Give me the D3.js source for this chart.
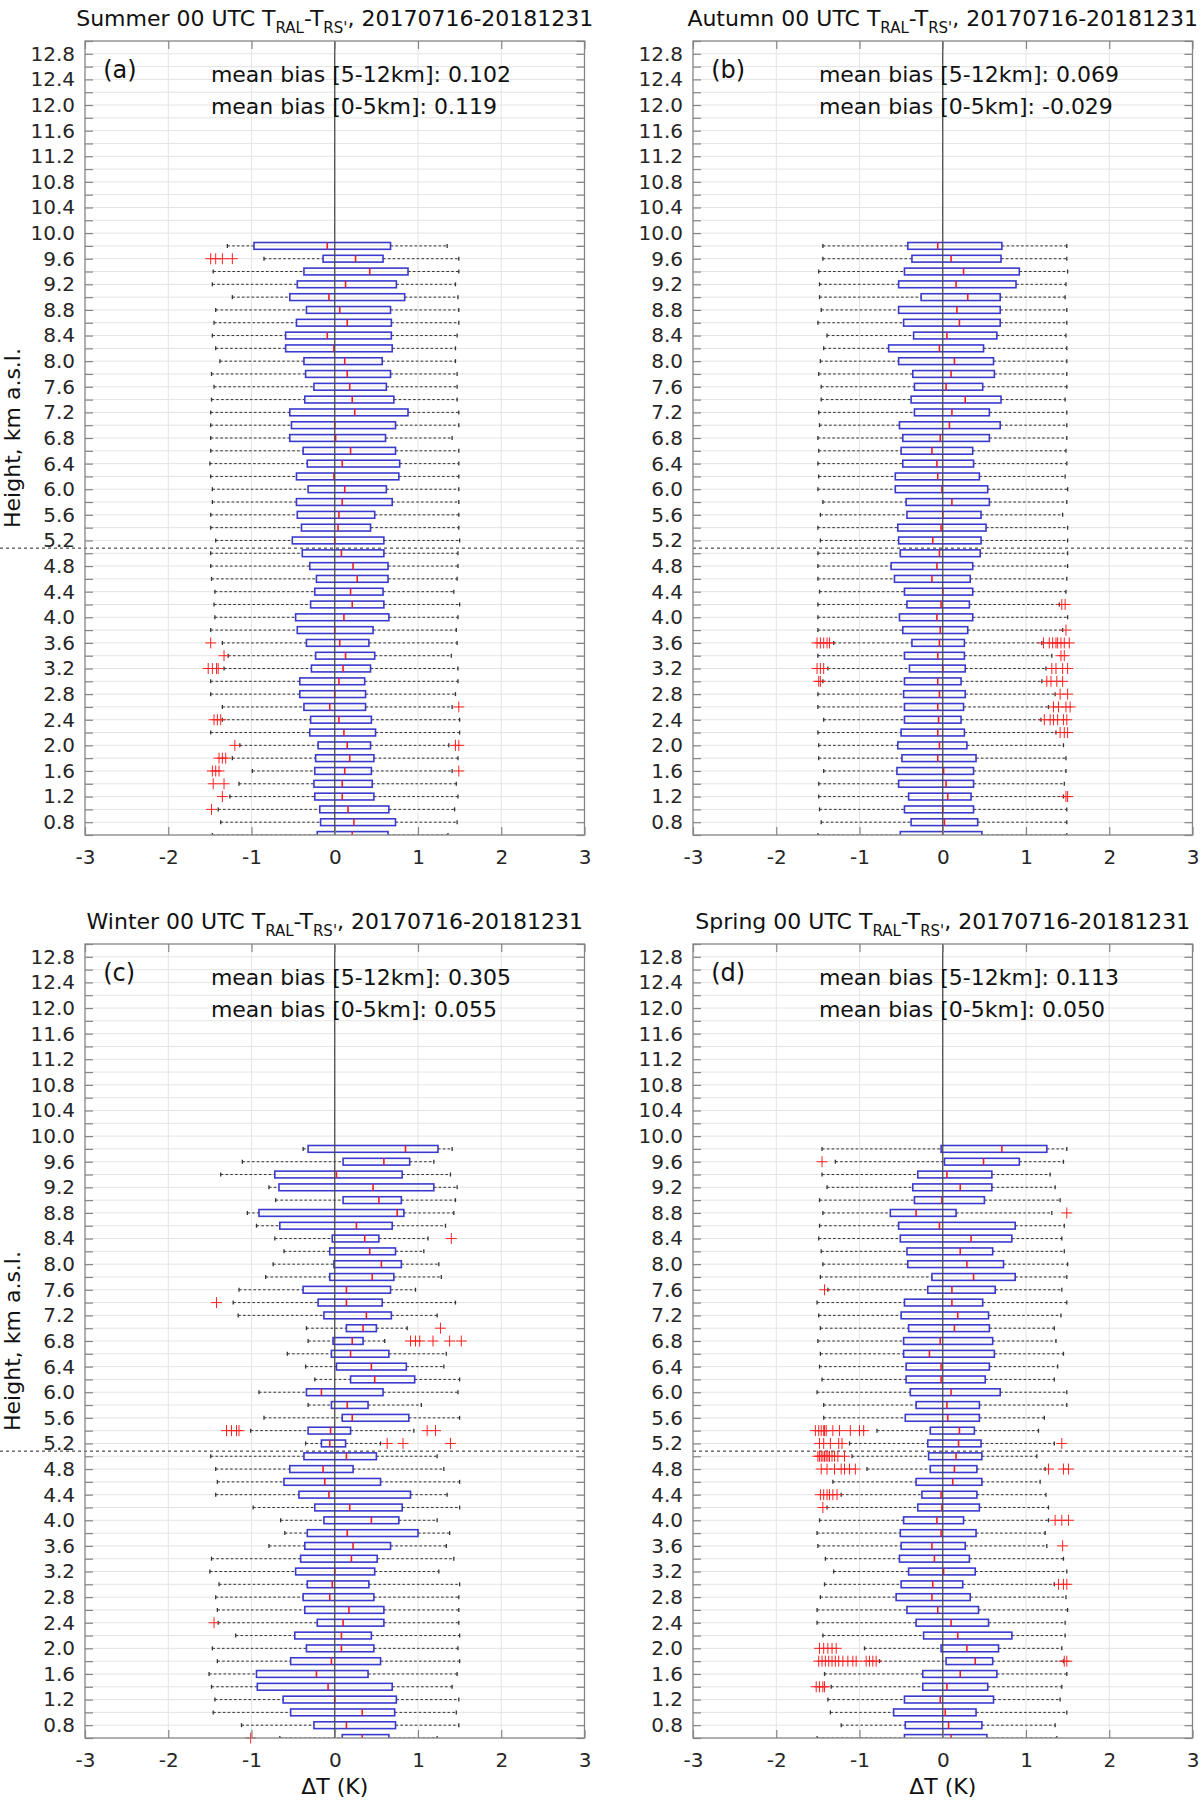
<html>
<script src="https://d3js.org/d3.v7.min.js"></script>
<style>
body {margin: 0; background: #fff;}
text {font-family: "DejaVu Sans", sans-serif;}
</style>
<body>
<svg id="chart" width="1200" height="1800"></svg>
<script>
// box rows, km a.s.l. (top to bottom)
var heights = [9.8,9.6,9.4,9.2,9.0,8.8,8.6,8.4,8.2,8.0,
               7.8,7.6,7.4,7.2,7.0,6.8,6.6,6.4,6.2,6.0,
               5.8,5.6,5.4,5.2,5.0,4.8,4.6,4.4,4.2,4.0,
               3.8,3.6,3.4,3.2,3.0,2.8,2.6,2.4,2.2,2.0,
               1.8,1.6,1.4,1.2,1.0,0.8,0.6];

var xTicks = [-3,-2,-1,0,1,2,3];
var yTickLabels = ["0.8","1.2","1.6","2.0","2.4","2.8","3.2","3.6","4.0","4.4","4.8","5.2","5.6","6.0","6.4","6.8",
                   "7.2","7.6","8.0","8.4","8.8","9.2","9.6","10.0","10.4","10.8","11.2","11.6","12.0","12.4","12.8"];
var seasons = ["Summer","Autumn","Winter","Spring"];
var tags = ["(a)","(b)","(c)","(d)"];
var biasUpper = ["0.102","0.069","0.305","0.113"];
var biasLower = ["0.119","-0.029","0.055","0.050"];
var splitHeight = 5.08;

// summer
var summerLo = [-1.29,-0.85,-1.46,-1.47,-1.23,-1.43,-1.45,-1.47,-1.43,-1.38,
                -1.48,-1.45,-1.48,-1.49,-1.49,-1.49,-1.49,-1.50,-1.49,-1.47,
                -1.47,-1.49,-1.49,-1.43,-1.49,-1.49,-1.48,-1.44,-1.45,-1.44,
                -1.49,-1.35,-1.28,-1.33,-1.49,-1.49,-1.35,-1.35,-1.49,-1.14,
                -1.23,-0.99,-1.15,-1.26,-1.40,-1.37,-1.47];
var summerQ1 = [-0.97,-0.14,-0.37,-0.45,-0.54,-0.34,-0.46,-0.59,-0.59,-0.37,
                -0.35,-0.25,-0.36,-0.54,-0.52,-0.54,-0.38,-0.33,-0.46,-0.32,
                -0.46,-0.45,-0.40,-0.51,-0.39,-0.30,-0.22,-0.24,-0.29,-0.47,
                -0.45,-0.34,-0.23,-0.28,-0.42,-0.42,-0.37,-0.29,-0.30,-0.20,
                -0.23,-0.24,-0.25,-0.24,-0.18,-0.17,-0.21];
var summerMed = [-0.09,0.25,0.42,0.13,-0.07,0.06,0.15,-0.09,-0.01,0.12,
                 0.15,0.18,0.21,0.24,0.00,0.01,0.19,0.09,-0.01,0.12,
                 0.09,0.05,0.04,0.00,0.08,0.22,0.27,0.19,0.21,0.11,
                 0.00,0.06,0.13,0.10,0.05,0.00,-0.06,0.05,0.11,0.15,
                 0.18,0.12,0.09,0.09,0.16,0.23,0.21];
var summerQ3 = [0.67,0.58,0.88,0.74,0.84,0.67,0.68,0.68,0.69,0.57,
                0.67,0.62,0.71,0.88,0.73,0.61,0.73,0.78,0.77,0.62,
                0.69,0.48,0.43,0.59,0.59,0.64,0.64,0.58,0.59,0.65,
                0.46,0.41,0.48,0.43,0.36,0.37,0.37,0.44,0.49,0.43,
                0.47,0.44,0.45,0.47,0.65,0.73,0.64];
var summerHi = [1.35,1.49,1.49,1.45,1.48,1.49,1.49,1.47,1.45,1.45,
                1.47,1.47,1.47,1.49,1.49,1.41,1.49,1.49,1.49,1.49,
                1.49,1.49,1.49,1.50,1.48,1.48,1.47,1.43,1.50,1.48,
                1.46,1.47,1.40,1.48,1.48,1.45,1.41,1.50,1.50,1.37,
                1.48,1.41,1.46,1.48,1.44,1.47,1.36];
var summerOut = [[9.6,-1.49,-1.43,-1.35,-1.23],[3.6,-1.49],[3.4,-1.33],[3.2,-1.52,-1.47,-1.42,-1.40],
                 [2.6,1.49],[2.4,-1.45,-1.41,-1.37],[2.0,-1.20,1.45,1.49],[1.8,-1.39,-1.35,-1.31],
                 [1.6,-1.47,-1.43,-1.39,1.49],[1.4,-1.46,-1.33],[1.2,-1.35],[1.0,-1.48]];

// autumn
var autumnLo = [-1.44,-1.44,-1.49,-1.48,-1.48,-1.46,-1.50,-1.39,-1.43,-1.47,
                -1.49,-1.46,-1.46,-1.49,-1.48,-1.50,-1.49,-1.50,-1.49,-1.50,
                -1.44,-1.47,-1.50,-1.47,-1.50,-1.50,-1.50,-1.48,-1.50,-1.50,
                -1.50,-1.31,-1.50,-1.38,-1.44,-1.50,-1.50,-1.43,-1.50,-1.49,
                -1.49,-1.43,-1.49,-1.49,-1.48,-1.46,-1.50];
var autumnQ1 = [-0.42,-0.37,-0.46,-0.53,-0.26,-0.53,-0.47,-0.35,-0.65,-0.53,
                -0.36,-0.34,-0.38,-0.34,-0.52,-0.48,-0.50,-0.48,-0.57,-0.57,
                -0.44,-0.43,-0.54,-0.53,-0.51,-0.62,-0.58,-0.46,-0.43,-0.52,
                -0.48,-0.37,-0.46,-0.40,-0.46,-0.47,-0.46,-0.46,-0.50,-0.54,
                -0.49,-0.55,-0.53,-0.41,-0.46,-0.38,-0.51];
var autumnMed = [-0.06,0.10,0.25,0.16,0.30,0.17,0.20,0.05,-0.04,0.14,
                 0.10,0.04,0.27,0.11,0.08,-0.03,-0.13,-0.07,-0.06,-0.01,
                 0.11,0.00,-0.02,-0.12,-0.04,-0.07,-0.13,0.00,-0.02,-0.07,
                 -0.03,-0.04,-0.06,0.00,-0.06,-0.04,-0.06,-0.05,-0.06,-0.04,
                 -0.06,0.01,0.04,0.06,0.00,0.02,0.00];
var autumnQ3 = [0.71,0.70,0.92,0.88,0.69,0.69,0.69,0.65,0.49,0.61,
                0.62,0.48,0.70,0.56,0.69,0.56,0.36,0.37,0.44,0.54,
                0.56,0.46,0.52,0.46,0.45,0.36,0.33,0.36,0.32,0.36,
                0.30,0.26,0.26,0.27,0.22,0.27,0.25,0.22,0.26,0.29,
                0.40,0.37,0.37,0.34,0.37,0.42,0.47];
var autumnHi = [1.49,1.49,1.50,1.48,1.47,1.49,1.49,1.48,1.49,1.49,
                1.49,1.49,1.47,1.49,1.49,1.49,1.48,1.49,1.47,1.50,
                1.49,1.44,1.50,1.50,1.50,1.50,1.49,1.48,1.40,1.50,
                1.44,1.19,1.31,1.24,1.19,1.35,1.27,1.18,1.36,1.45,
                1.48,1.48,1.46,1.45,1.49,1.49,1.49];
var autumnOut = [[4.2,1.43,1.47],[3.8,1.48],
                 [3.6,-1.51,-1.47,-1.43,-1.39,-1.36,1.21,1.28,1.32,1.36,1.38,1.42,1.46,1.52],
                 [3.4,1.42,1.46],[3.2,-1.51,-1.47,-1.43,1.31,1.36,1.44,1.50],
                 [3.0,-1.49,-1.47,1.25,1.30,1.37,1.44],[2.8,1.41,1.50],[2.6,1.33,1.39,1.48,1.53],
                 [2.4,1.22,1.29,1.33,1.38,1.45,1.49],[2.2,1.41,1.46,1.50],[1.2,1.48,1.50]];

// winter
var winterLo = [-0.38,-1.11,-1.37,-0.79,-0.71,-1.05,-0.94,-0.72,-0.61,-0.74,
                -0.83,-1.15,-1.22,-1.16,-0.34,-0.32,-0.57,-0.35,-0.24,-0.91,
                -0.32,-0.85,-1.01,-0.35,-1.49,-1.43,-1.41,-1.43,-0.98,-0.65,
                -0.60,-0.79,-1.48,-1.50,-1.39,-1.43,-1.41,-1.40,-1.19,-1.47,
                -1.41,-1.51,-1.48,-1.44,-1.46,-1.12,-0.66];
var winterQ1 = [-0.32,0.10,-0.72,-0.67,0.10,-0.91,-0.66,-0.03,-0.06,-0.01,
                -0.06,-0.38,-0.20,-0.13,0.14,-0.02,-0.04,0.02,0.19,-0.34,
                -0.04,0.09,-0.32,-0.16,-0.37,-0.54,-0.61,-0.43,-0.24,-0.13,
                -0.33,-0.36,-0.41,-0.47,-0.33,-0.38,-0.36,-0.21,-0.48,-0.34,
                -0.53,-0.94,-0.93,-0.62,-0.53,-0.25,0.09];
var winterMed = [0.85,0.59,0.02,0.46,0.53,0.75,0.26,0.36,0.42,0.56,
                 0.45,0.14,0.14,0.38,0.34,0.21,0.19,0.44,0.48,-0.16,
                 0.15,0.21,-0.05,-0.06,0.14,-0.14,-0.12,-0.07,0.18,0.44,
                 0.15,0.22,0.20,0.00,-0.03,-0.06,0.17,0.10,0.08,0.08,
                 -0.04,-0.22,-0.08,0.00,0.33,0.14,0.33];
var winterQ3 = [1.24,0.90,0.81,1.19,0.80,0.83,0.69,0.53,0.73,0.80,
                0.71,0.67,0.57,0.68,0.50,0.34,0.65,0.86,0.96,0.58,
                0.40,0.89,0.19,0.13,0.50,0.22,0.55,0.91,0.81,0.77,
                1.00,0.67,0.51,0.48,0.41,0.47,0.59,0.59,0.44,0.47,
                0.55,0.40,0.69,0.74,0.72,0.73,0.65];
var winterHi = [1.41,1.19,1.39,1.47,1.45,1.43,1.33,1.12,1.07,1.25,
                1.28,0.97,1.45,1.23,0.87,0.60,1.34,1.31,1.50,1.48,
                1.04,1.50,0.95,0.55,1.23,1.31,1.50,1.35,1.50,1.23,
                1.38,1.34,1.43,1.25,1.50,1.49,1.49,1.49,1.50,1.48,
                1.50,1.47,1.41,1.49,1.46,1.49,1.23];
var winterOut = [[8.4,1.40],[7.4,-1.42],[7.0,1.27],[6.8,0.91,0.97,1.02,1.18,1.38,1.52],
                 [5.4,-1.30,-1.24,-1.18,-1.15,1.11,1.21],[5.2,0.63,0.82,1.39],[2.4,-1.45],[0.6,-1.01]];

// spring
var springLo = [-1.45,-1.29,-1.45,-1.39,-1.48,-1.44,-1.48,-1.49,-1.46,-1.44,
                -1.47,-1.38,-1.51,-1.49,-1.47,-1.50,-1.47,-1.48,-1.45,-1.51,
                -1.43,-1.43,-0.79,-1.12,-1.09,-0.91,-1.32,-1.22,-1.39,-1.48,
                -1.51,-1.50,-1.41,-1.31,-1.42,-1.47,-1.51,-1.51,-1.44,-0.94,
                -0.76,-1.42,-1.34,-1.38,-1.35,-1.22,-1.51];
var springQ1 = [-0.02,0.02,-0.30,-0.36,-0.34,-0.63,-0.53,-0.51,-0.43,-0.42,
                -0.13,-0.18,-0.46,-0.50,-0.41,-0.47,-0.47,-0.44,-0.44,-0.39,
                -0.32,-0.45,-0.15,-0.18,-0.17,-0.15,-0.32,-0.25,-0.30,-0.47,
                -0.51,-0.50,-0.52,-0.41,-0.50,-0.56,-0.43,-0.32,-0.23,-0.02,
                0.04,-0.24,-0.24,-0.46,-0.59,-0.45,-0.46];
var springMed = [0.71,0.49,0.05,0.21,-0.01,-0.32,-0.04,0.34,0.21,0.29,
                 0.37,0.11,0.11,0.18,0.14,-0.03,-0.16,-0.02,-0.02,0.10,
                 0.05,0.06,0.20,0.19,0.16,0.14,0.12,-0.02,-0.01,-0.07,
                 -0.02,-0.13,-0.10,0.01,-0.12,-0.13,-0.06,0.10,0.18,0.29,
                 0.39,0.21,0.05,-0.03,0.03,0.07,0.10];
var springQ3 = [1.25,0.92,0.59,0.59,0.50,0.16,0.87,0.83,0.60,0.73,
                0.87,0.63,0.48,0.55,0.56,0.60,0.62,0.56,0.51,0.69,
                0.44,0.44,0.38,0.46,0.47,0.41,0.47,0.41,0.44,0.25,
                0.40,0.27,0.32,0.39,0.24,0.33,0.43,0.55,0.83,0.67,
                0.60,0.65,0.54,0.61,0.40,0.47,0.53];
var springHi = [1.49,1.45,1.29,1.35,1.41,1.31,1.46,1.43,1.46,1.50,
                1.49,1.43,1.49,1.42,1.34,1.36,1.45,1.38,1.34,1.49,
                1.49,1.22,1.15,1.34,1.13,1.23,1.17,1.24,1.27,1.27,
                1.23,1.25,1.45,1.49,1.34,1.48,1.50,1.47,1.47,1.43,
                1.45,1.49,1.43,1.41,1.49,1.35,1.37];
var springOut = [[9.6,-1.45],[8.8,1.49],[7.6,-1.42],
                 [5.4,-1.53,-1.49,-1.46,-1.43,-1.42,-1.40,-1.32,-1.24,-1.11,-1.00,-0.95],
                 [5.2,-1.48,-1.43,-1.35,-1.25,-1.21,1.43],
                 [5.0,-1.50,-1.48,-1.46,-1.44,-1.42,-1.40,-1.38,-1.36,-1.33,-1.30,-1.26,-1.18],
                 [4.8,-1.46,-1.39,-1.30,-1.22,-1.18,-1.12,-1.05,1.27,1.45,1.51],
                 [4.4,-1.47,-1.43,-1.39,-1.36,-1.32,-1.27],[4.2,-1.44],[4.0,1.35,1.43,1.51],[3.6,1.44],
                 [3.0,1.39,1.45,1.49],[2.0,-1.48,-1.43,-1.38,-1.33,-1.28],
                 [1.8,-1.49,-1.45,-1.41,-1.37,-1.33,-1.29,-1.25,-1.20,-1.14,-1.08,-1.04,-0.92,-0.88,-0.84,-0.80,1.46,1.49],
                 [1.4,-1.52,-1.48,-1.44,-1.42]];

var stats = [
  {lo: summerLo, q1: summerQ1, med: summerMed, q3: summerQ3, hi: summerHi, out: summerOut},
  {lo: autumnLo, q1: autumnQ1, med: autumnMed, q3: autumnQ3, hi: autumnHi, out: autumnOut},
  {lo: winterLo, q1: winterQ1, med: winterMed, q3: winterQ3, hi: winterHi, out: winterOut},
  {lo: springLo, q1: springQ1, med: springMed, q3: springQ3, hi: springHi, out: springOut}
];

// layout
var colX = [85, 693], rowY = [41, 944];
var pw = 499.5, ph = 794;
var boxHalf = 0.053;   // half box height, km
var gridCol = "#e4e4e4", axisCol = "#858585", txtCol = "#262626";

var svg = d3.select("#chart");
svg.append("rect").attr("width", 1200).attr("height", 1800).attr("fill", "#fff");

function drawPanel(k) {
  var col = k % 2, row = Math.floor(k / 2);
  var left = colX[col], top = rowY[row];
  var s = stats[k];
  var x = d3.scaleLinear().domain([-3, 3]).range([left, left + pw]);
  var y = d3.scaleLinear().domain([0.6, 13]).range([top + ph, top]);
  var g = svg.append("g");

  var cid = "clip" + k;
  svg.append("clipPath").attr("id", cid).append("rect")
    .attr("x", left).attr("y", top).attr("width", pw).attr("height", ph);

  // grid
  var minor = d3.range(6, 131, 2).map(function(d) { return d / 10; });
  g.selectAll(".hg").data(minor.slice(1, -1)).enter().append("line")
    .attr("x1", left).attr("x2", left + pw)
    .attr("y1", function(d) { return y(d); }).attr("y2", function(d) { return y(d); })
    .attr("stroke", gridCol).attr("stroke-width", 1);
  g.selectAll(".vg").data([-2, -1, 1, 2]).enter().append("line")
    .attr("x1", function(d) { return x(d); }).attr("x2", function(d) { return x(d); })
    .attr("y1", top).attr("y2", top + ph)
    .attr("stroke", gridCol).attr("stroke-width", 1);

  // 5 km divider
  g.append("line")
    .attr("x1", col === 0 ? 0 : left).attr("x2", left + pw)
    .attr("y1", y(splitHeight)).attr("y2", y(splitHeight))
    .attr("stroke", "#222").attr("stroke-width", 1).attr("stroke-dasharray", "3,3");

  var rows = heights.map(function(h, i) {
    return {h: h, lo: s.lo[i], q1: s.q1[i], med: s.med[i], q3: s.q3[i], hi: s.hi[i]};
  });
  var b = g.append("g").attr("clip-path", "url(#" + cid + ")");

  // whiskers
  b.selectAll(".wl").data(rows).enter().append("line")
    .attr("x1", function(d) { return x(d.lo); }).attr("x2", function(d) { return x(d.q1); })
    .attr("y1", function(d) { return y(d.h); }).attr("y2", function(d) { return y(d.h); })
    .attr("stroke", "#333").attr("stroke-width", 1).attr("stroke-dasharray", "2.6,2.2");
  b.selectAll(".wh").data(rows).enter().append("line")
    .attr("x1", function(d) { return x(d.q3); }).attr("x2", function(d) { return x(d.hi); })
    .attr("y1", function(d) { return y(d.h); }).attr("y2", function(d) { return y(d.h); })
    .attr("stroke", "#333").attr("stroke-width", 1).attr("stroke-dasharray", "2.6,2.2");
  // caps
  ["lo", "hi"].forEach(function(key) {
    b.selectAll(".cap" + key).data(rows).enter().append("line")
      .attr("x1", function(d) { return x(d[key]); }).attr("x2", function(d) { return x(d[key]); })
      .attr("y1", function(d) { return y(d.h) - 2; }).attr("y2", function(d) { return y(d.h) + 2; })
      .attr("stroke", "#333").attr("stroke-width", 1.3);
  });
  // boxes
  b.selectAll(".box").data(rows).enter().append("rect")
    .attr("x", function(d) { return x(d.q1); })
    .attr("width", function(d) { return x(d.q3) - x(d.q1); })
    .attr("y", function(d) { return y(d.h + boxHalf); })
    .attr("height", function(d) { return y(d.h - boxHalf) - y(d.h + boxHalf); })
    .attr("fill", "none").attr("stroke", "#3a3acf").attr("stroke-width", 1.6);
  // medians
  b.selectAll(".med").data(rows).enter().append("line")
    .attr("x1", function(d) { return x(d.med); }).attr("x2", function(d) { return x(d.med); })
    .attr("y1", function(d) { return y(d.h + boxHalf); }).attr("y2", function(d) { return y(d.h - boxHalf); })
    .attr("stroke", "#e8202a").attr("stroke-width", 1.6);

  // zero line
  g.append("line").attr("x1", x(0)).attr("x2", x(0)).attr("y1", top).attr("y2", top + ph)
    .attr("stroke", "#4a4a4a").attr("stroke-width", 1.3);

  // outliers
  var pts = [];
  s.out.forEach(function(r) { r.slice(1).forEach(function(v) { pts.push({h: r[0], v: v}); }); });
  g.selectAll(".out").data(pts).enter().append("path")
    .attr("d", function(d) {
      var px = x(d.v), py = y(d.h);
      return "M" + (px - 5.5) + "," + py + "H" + (px + 5.5) + "M" + px + "," + (py - 5.5) + "V" + (py + 5.5);
    })
    .attr("stroke", "#f22").attr("stroke-width", 1).attr("fill", "none");

  // frame
  g.append("rect").attr("x", left).attr("y", top).attr("width", pw).attr("height", ph)
    .attr("fill", "none").attr("stroke", axisCol).attr("stroke-width", 1.3);

  // axes
  var labelSet = {};
  yTickLabels.forEach(function(t) { labelSet[t] = true; });
  var fmt = d3.format(".1f");
  var yl = g.append("g").attr("transform", "translate(" + left + ",0)")
    .call(d3.axisLeft(y).tickValues(minor).tickSizeInner(-8).tickSizeOuter(0).tickPadding(10)
      .tickFormat(function(d) { return labelSet[fmt(d)] ? fmt(d) : ""; }));
  var yr = g.append("g").attr("transform", "translate(" + (left + pw) + ",0)")
    .call(d3.axisRight(y).tickValues(minor).tickSizeInner(-8).tickSizeOuter(0).tickFormat(""));
  var xt = g.append("g").attr("transform", "translate(0," + top + ")")
    .call(d3.axisTop(x).tickValues(xTicks).tickSizeInner(-8).tickSizeOuter(0).tickFormat(""));
  var xb = g.append("g").attr("transform", "translate(0," + (top + ph) + ")")
    .call(d3.axisBottom(x).tickValues(xTicks).tickSizeInner(-8).tickSizeOuter(0).tickPadding(15)
      .tickFormat(function(d) { return d < 0 ? "-" + Math.abs(d) : String(d); }));
  [yl, yr, xt, xb].forEach(function(a) {
    a.select(".domain").remove();
    a.selectAll("line").attr("stroke", axisCol).attr("stroke-width", 1.2);
    a.selectAll("text").attr("fill", txtCol).attr("font-size", 20)
      .attr("font-family", "DejaVu Sans, sans-serif");
  });

  // title
  var t = g.append("text").attr("x", left + pw / 2).attr("y", top - 15.5)
    .attr("text-anchor", "middle").attr("font-size", 22).attr("fill", "#111");
  t.append("tspan").text(seasons[k] + " 00 UTC T");
  t.append("tspan").attr("font-size", 15).attr("dy", 7).text("RAL");
  t.append("tspan").attr("dy", -7).text("-T");
  t.append("tspan").attr("font-size", 15).attr("dy", 7).text("RS'");
  t.append("tspan").attr("dy", -7).text(", 20170716-20181231");

  // panel tag and bias notes
  g.append("text").attr("x", x(-2.8) + 1.5).attr("y", y(12.6) + 11.5)
    .attr("font-size", 24).attr("fill", "#111").text(tags[k]);
  g.append("text").attr("x", x(-1.5) + 1).attr("y", y(12.5) + 9)
    .attr("font-size", 22).attr("fill", "#111").text("mean bias [5-12km]: " + biasUpper[k]);
  g.append("text").attr("x", x(-1.5) + 1).attr("y", y(12.0) + 9)
    .attr("font-size", 22).attr("fill", "#111").text("mean bias [0-5km]: " + biasLower[k]);

  if (col === 0) {
    g.append("text").attr("transform", "translate(20," + (top + ph / 2) + ") rotate(-90)")
      .attr("text-anchor", "middle").attr("font-size", 22).attr("fill", "#111")
      .text("Height, km a.s.l.");
  }
  if (row === 1) {
    g.append("text").attr("x", left + pw / 2).attr("y", top + ph + 56)
      .attr("text-anchor", "middle").attr("font-size", 22).attr("fill", "#111")
      .text("\u0394T (K)");
  }
}

for (var k = 0; k < 4; k++) drawPanel(k);
</script>
</body>
</html>
